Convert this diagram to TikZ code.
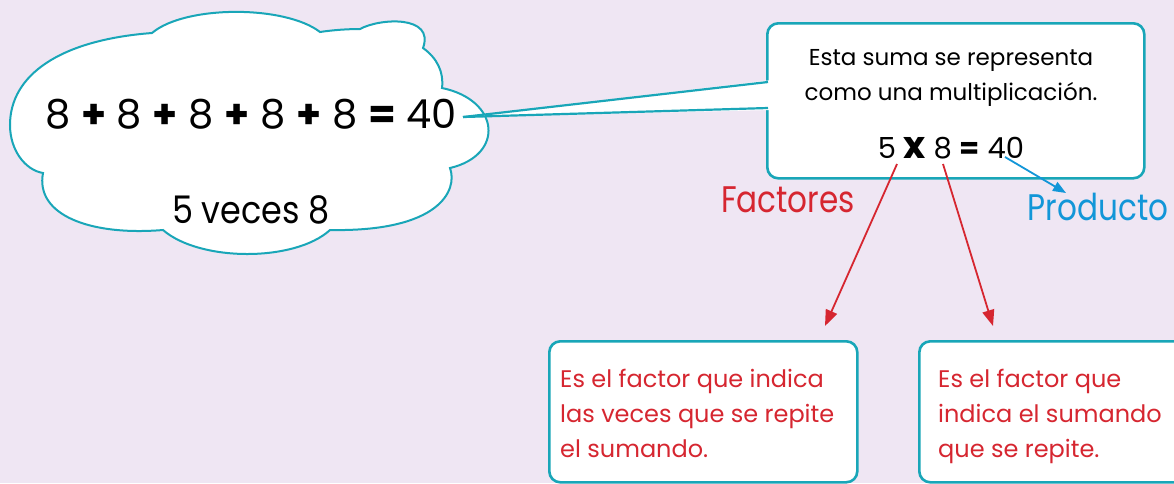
\documentclass[tikz,border=0pt]{standalone}
\usepackage{fontspec}
\usepackage{graphicx}
\setmainfont{Poppins}
\newfontfamily\condfont{Poppins}[FakeStretch=0.84]
\newfontfamily\semicond{Poppins}[FakeStretch=0.88]
\usetikzlibrary{arrows.meta}
\definecolor{bgc}{RGB}{239,230,243}
\definecolor{tealc}{RGB}{25,166,184}
\definecolor{redc}{RGB}{214,38,48}
\definecolor{bluec}{RGB}{18,150,216}
\tikzset{
 boxst/.style={draw=tealc, line width=2.6pt, fill=white, rounded corners=11pt, inner sep=0pt},
 cloudst/.style={draw=tealc, line width=2pt, fill=white},
 redarr/.style={draw=redc, line width=1.8pt, -{Triangle[length=16pt,width=12pt]}},
 bluearr/.style={draw=bluec, line width=1.8pt, -{Triangle[length=13pt,width=10pt]}},
 redtxt/.style={text=redc, font=\fontsize{24}{35}\selectfont, align=left, inner sep=0pt, anchor=north west},
 bigtxt/.style={font=\fontsize{40}{48}\selectfont, inner sep=0pt, anchor=base},
 labeltxt/.style={font=\condfont\fontsize{37}{40}\selectfont, inner sep=0pt, anchor=base},
 pointerline/.style={draw=tealc, line width=2.2pt},
}
\begin{document}
\begin{tikzpicture}[x=1pt,y=-1pt]
\useasboundingbox (0,0) rectangle (1174,483);
\fill[bgc] (0,0) rectangle (1174,483);
% cloud
\draw[cloudst] (43,173) .. controls (25,170) and (10,150) .. (10,125)
 .. controls (10,75) and (60,40) .. (152,33)
 .. controls (185,5) and (285,5) .. (320,32)
 .. controls (333,30) and (348,29) .. (360,29)
 .. controls (380,18) and (435,15) .. (423,48)
 .. controls (437,58) and (444,72) .. (442,88)
 .. controls (500,100) and (505,155) .. (450,168)
 .. controls (458,190) and (440,232) .. (330,230)
 .. controls (295,262) and (200,262) .. (163,230)
 .. controls (90,236) and (35,215) .. (43,173) -- cycle;
\node[bigtxt] (sum) at (251,128) {8 \textbf{+} 8 \textbf{+} 8 \textbf{+} 8 \textbf{+} 8 \textbf{=} 40};
\node[bigtxt, font=\semicond\fontsize{38}{44}\selectfont] (veces) at (251,223) {5 veces 8};
% callout box
\node[boxst, minimum width=377pt, minimum height=155pt, anchor=north west] (callout) at (766,22) {};
\coordinate (tip) at (463,117);
\coordinate (p1) at (768,82);
\coordinate (p2) at (768,108);
\fill[white] (tip) -- (772,80) -- (772,110) -- cycle;
\draw[pointerline] (tip) -- (p1);
\draw[pointerline] (tip) -- (p2);
\node[font=\fontsize{23}{35}\selectfont, align=center, inner sep=0pt, anchor=base] (t1) at (951,100) {Esta suma se representa\\como una multiplicación.};
\node[font=\fontsize{29}{34}\selectfont, inner sep=0pt, anchor=base] (eq) at (951,158) {5 \scalebox{1.3}{\textbf{x}} 8 \textbf{=} 40};
% labels
\node[labeltxt, text=redc] (fac) at (788,212) {Factores};
\node[labeltxt, text=bluec] (prod) at (1098,220) {Producto};
% bottom boxes
\node[boxst, minimum width=308pt, minimum height=141pt, anchor=north west] (b1) at (548,340) {};
\node[boxst, minimum width=280pt, minimum height=141pt, anchor=north west] (b2) at (918,340) {};
\node[redtxt] (t2) at (560,369) {Es el factor que indica\\las veces que se repite\\el sumando.};
\node[redtxt] (t3) at (938,369) {Es el factor que\\indica el sumando\\que se repite.};
% arrows
\coordinate (five) at (897,164);
\coordinate (eight) at (943,164);
\coordinate (forty) at (1005,157);
\coordinate (e1) at (825,326);
\coordinate (e2) at (993,326);
\coordinate (e3) at (1066,193);
\draw[redarr] (five) -- (e1);
\draw[redarr] (eight) -- (e2);
\draw[bluearr] (forty) -- (e3);
\end{tikzpicture}
\end{document}
